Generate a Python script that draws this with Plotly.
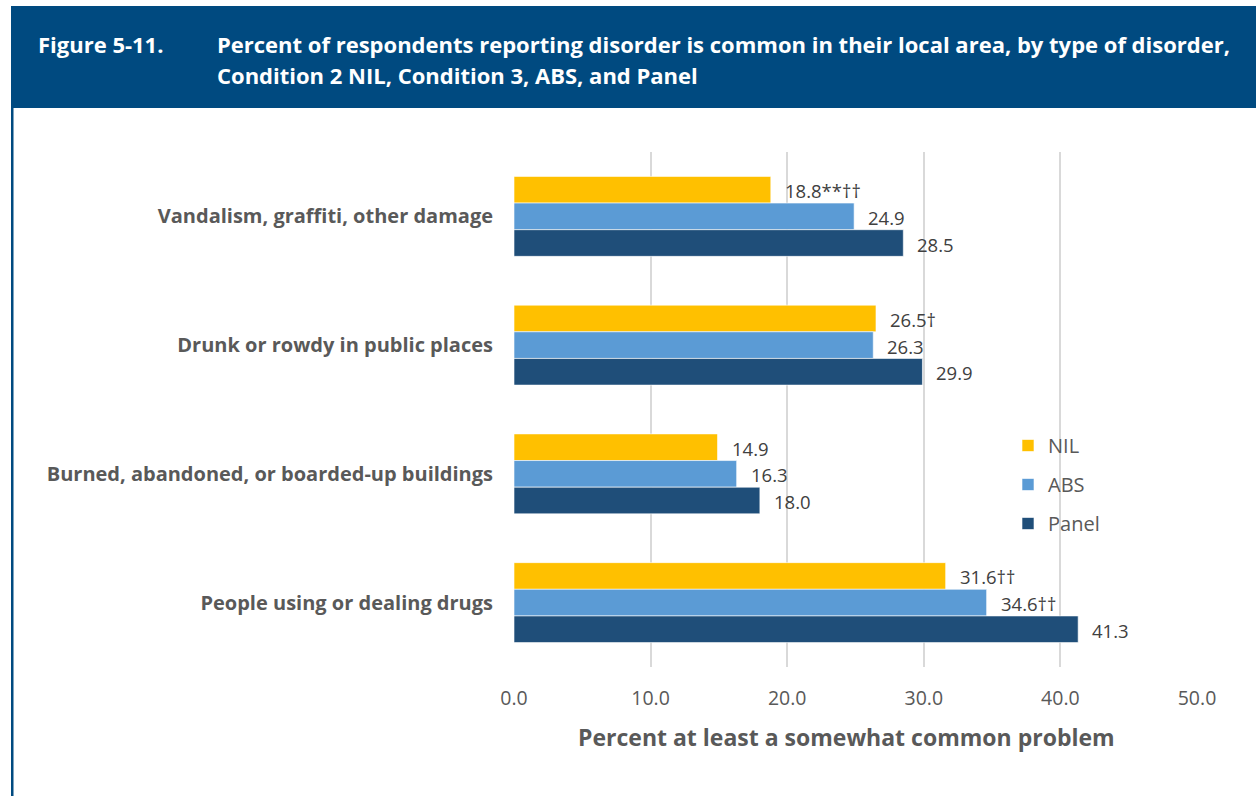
import plotly.graph_objects as go

# Disorder categories (top to bottom) and the three survey groups
categories = [
    "Vandalism, graffiti, other damage",
    "Drunk or rowdy in public places",
    "Burned, abandoned, or boarded-up buildings",
    "People using or dealing drugs",
]
series_names = ["NIL", "ABS", "Panel"]
nil_values = [18.8, 26.5, 14.9, 31.6]
abs_values = [24.9, 26.3, 16.3, 34.6]
panel_values = [28.5, 29.9, 18.0, 41.3]
# significance markers appended to the value labels
nil_marks = ["**††", "†", "", "††"]
abs_marks = ["", "", "", "††"]
panel_marks = ["", "", "", ""]
x_ticks = [0, 10, 20, 30, 40, 50]

colors = ["#FFC000", "#5B9BD5", "#1F4E79"]

W, H = 1256, 796
L, R, T, B = 514, 1197, 152, 667  # plot area in pixels


def px(x):
    return (x - L) / (R - L)


def py(y):
    return (B - y) / (B - T)


FONT = "Open Sans"
all_values = [nil_values, abs_values, panel_values]
all_marks = [nil_marks, abs_marks, panel_marks]

fig = go.Figure()
for name, vals, col in zip(series_names, all_values, colors):
    fig.add_trace(go.Bar(
        y=categories, x=vals, name=name, orientation="h",
        marker=dict(color=col, line=dict(color="white", width=0.6)),
        legendgroup=name,
    ))

bargap = 0.379
slot = (B - T) / len(categories)
bar_h = (1 - bargap) * slot / 3
annotations = []
for i, (vals, marks) in enumerate(zip(all_values, all_marks)):
    shift = (1 - i) * bar_h
    for cat, v, m in zip(categories, vals, marks):
        annotations.append(dict(
            x=v, y=cat, xref="x", yref="y", text=f"{v:.1f}{m}",
            showarrow=False, xanchor="left", yanchor="middle",
            xshift=12, yshift=shift - 1,
            font=dict(family=FONT, size=18.5, color="#404040"),
        ))

# header texts
annotations += [
    dict(x=px(36), y=py(44), xref="paper", yref="paper", text="<b>Figure 5-11.</b>",
         showarrow=False, xanchor="left", yanchor="middle",
         font=dict(family=FONT, size=22, color="white")),
    dict(x=px(215), y=py(44), xref="paper", yref="paper",
         text="<b>Percent of respondents reporting disorder is common in their local area, by type of disorder,</b>",
         showarrow=False, xanchor="left", yanchor="middle",
         font=dict(family=FONT, size=22, color="white")),
    dict(x=px(215), y=py(75), xref="paper", yref="paper",
         text="<b>Condition 2 NIL, Condition 3, ABS, and Panel</b>",
         showarrow=False, xanchor="left", yanchor="middle",
         font=dict(family=FONT, size=22, color="white")),
    dict(x=px(846), y=py(737), xref="paper", yref="paper",
         text="<b>Percent at least a somewhat common problem</b>",
         showarrow=False, xanchor="center", yanchor="middle",
         font=dict(family=FONT, size=23, color="#595959")),
]

shapes = [
    dict(type="rect", xref="paper", yref="paper", x0=px(11), x1=px(1260),
         y0=py(6), y1=py(108), fillcolor="#004A80", line=dict(width=0), layer="below"),
    dict(type="rect", xref="paper", yref="paper", x0=px(11), x1=px(13.5),
         y0=py(108), y1=py(800), fillcolor="#004A80", line=dict(width=0), layer="below"),
]

fig.update_layout(
    width=W, height=H,
    margin=dict(l=L, r=W - R, t=T, b=H - B, autoexpand=False),
    paper_bgcolor="white", plot_bgcolor="white",
    barmode="group", bargap=bargap, bargroupgap=0,
    font=dict(family=FONT, color="#595959"),
    xaxis=dict(
        range=[0, 50], tickvals=x_ticks, tickformat=".1f",
        showgrid=True, gridcolor="#D9D9D9", gridwidth=2,
        zeroline=False, showline=False, ticks="",
        tickfont=dict(family=FONT, size=19.5, color="#595959"),
        ticklabelstandoff=17, fixedrange=True,
    ),
    yaxis=dict(
        autorange="reversed", showgrid=False, zeroline=False, showline=False,
        ticks="", tickfont=dict(family=FONT, size=20, color="#595959"),
        ticklabelstandoff=20, fixedrange=True,
    ),
    legend=dict(
        x=px(1008), y=py(426), xanchor="left", yanchor="top",
        font=dict(family=FONT, size=20, color="#595959"),
        tracegroupgap=10, bgcolor="rgba(0,0,0,0)",
    ),
    showlegend=True,
    annotations=annotations,
    shapes=shapes,
)
fig.update_yaxes(tickprefix="<b>", ticksuffix="</b>")

fig.write_html("out.html")
